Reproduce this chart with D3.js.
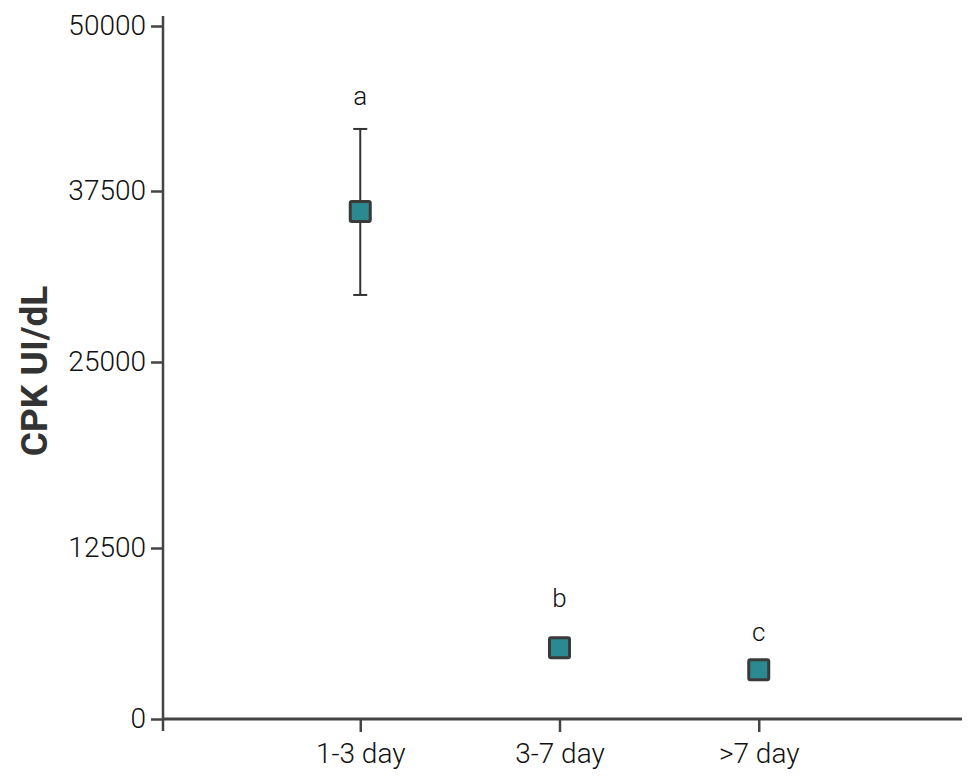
<!DOCTYPE html>
<html><head><meta charset="utf-8">
<script src="https://cdn.jsdelivr.net/npm/d3@7"></script>
<style>body{margin:0;background:#fff;} text{font-family:Roboto,"Noto Sans",sans-serif;}</style>
</head><body>
<svg id="chart" width="970" height="777"></svg>
<script>
const categories = ["1-3 day", "3-7 day", ">7 day"];
const means = [36000, 5200, 3600];
const upper = [42200, null, null];
const lower = [29900, null, null];
const groupLetters = ["a", "b", "c"];
const letterValues = [44000, 8200, 5700];
const yTicks = [0, 12500, 25000, 37500, 50000];
const yTitle = "CPK UI/dL";

const svg = d3.select("#chart");
const x = d3.scalePoint().domain(categories).range([161, 958]).padding(1);
const y = d3.scaleLinear().domain(yTicks).range([719, 548, 362, 191, 26]);
const axisColor = "#444";

// y axis
const gy = svg.append("g").attr("transform", "translate(163,0)")
  .call(d3.axisLeft(y).tickValues(yTicks).tickSize(12).tickSizeOuter(0).tickPadding(5).tickFormat(d3.format("d")));
gy.select(".domain").remove();
gy.selectAll(".tick line").attr("stroke", axisColor).attr("stroke-width", 2.5);
gy.selectAll(".tick text").attr("fill", "#111").style("font-size", "28px").style("font-weight", 300);
svg.append("line").attr("x1", 163).attr("x2", 163).attr("y1", 16).attr("y2", 731)
  .attr("stroke", axisColor).attr("stroke-width", 2.5);

// x axis
const gx = svg.append("g").attr("transform", "translate(0,719)")
  .call(d3.axisBottom(x).tickSize(13).tickSizeOuter(0).tickPadding(11));
gx.select(".domain").attr("d", "M163,0H962").attr("stroke", axisColor).attr("stroke-width", 3);
gx.selectAll(".tick line").attr("stroke", axisColor).attr("stroke-width", 2.5);
gx.selectAll(".tick text").attr("fill", "#111").style("font-size", "28px").style("font-weight", 300);

// y title
svg.append("text").attr("transform", "translate(47,371) rotate(-90)")
  .attr("text-anchor", "middle").style("font-size", "37px").style("font-weight", 700)
  .attr("fill", "#333").text(yTitle);

const data = categories.map((c, i) => ({c, m: means[i], hi: upper[i], lo: lower[i], g: groupLetters[i], lv: letterValues[i]}));

// error bars
const eb = data.filter(d => d.hi != null);
svg.selectAll(".eb").data(eb).enter().append("line")
  .attr("x1", d => x(d.c)).attr("x2", d => x(d.c))
  .attr("y1", d => y(d.hi)).attr("y2", d => y(d.lo))
  .attr("stroke", "#333").attr("stroke-width", 2);
["hi", "lo"].forEach(k => {
  svg.selectAll(".cap" + k).data(eb).enter().append("line")
    .attr("x1", d => x(d.c) - 7).attr("x2", d => x(d.c) + 7)
    .attr("y1", d => y(d[k])).attr("y2", d => y(d[k]))
    .attr("stroke", "#333").attr("stroke-width", 2);
});

// markers
const s = 20;
svg.selectAll(".pt").data(data).enter().append("rect")
  .attr("x", d => x(d.c) - s / 2).attr("y", d => y(d.m) - s / 2)
  .attr("width", s).attr("height", s).attr("rx", 1.5)
  .attr("fill", "#2B8A91").attr("stroke", "#3a3a3a").attr("stroke-width", 3);

// letters
svg.selectAll(".lt").data(data).enter().append("text")
  .attr("x", d => x(d.c)).attr("y", d => y(d.lv))
  .attr("text-anchor", "middle").style("font-size", "26px").style("font-weight", 300)
  .attr("fill", "#111").text(d => d.g);
</script>
</body></html>
